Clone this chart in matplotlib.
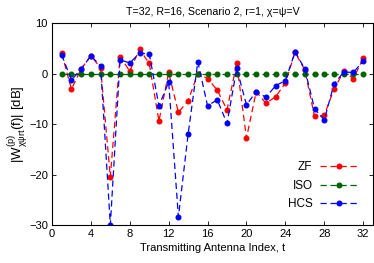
import numpy as np
import matplotlib
matplotlib.use('Agg')
import matplotlib.pyplot as plt

plt.rcParams['font.family'] = ['Liberation Sans', 'DejaVu Sans']
plt.rcParams['font.size'] = 8
plt.rcParams['mathtext.fontset'] = 'custom'
plt.rcParams['mathtext.rm'] = 'Liberation Sans'
plt.rcParams['mathtext.it'] = 'Liberation Sans'
plt.rcParams['mathtext.default'] = 'regular'

# antenna index
t = np.arange(1, 33)

zf = [4.0, -3.1, 0.9, 3.5, 1.1, -20.5, 3.3, 0.5, 4.8, 2.0,
      -9.4, 0.2, -7.7, -5.4, 0.0, -1.0, -3.3, -7.2, 2.0, -12.8,
      -3.6, -5.9, -4.6, -1.9, 4.2, 0.7, -8.5, -8.3, -3.1, 0.4,
      -1.0, 3.0]
iso = [0.0] * 32
hcs = [3.7, -1.3, 0.9, 3.5, 1.5, -30.0, 2.7, 2.1, 4.0, 3.9,
       -6.4, -1.7, -28.4, -12.0, 2.3, -6.4, -5.2, -9.9, 1.0, -6.2,
       -3.6, -4.7, -2.4, -1.4, 4.3, 0.9, -7.0, -9.2, -2.1, 0.3,
       0.2, 2.5]

fig = plt.figure(figsize=(3.74, 2.63), dpi=100)
ax = fig.add_axes([0.139, 0.1445, 0.858, 0.768])

style = dict(marker='o', markersize=3.3, linewidth=0.9, dashes=(5, 3))
ax.plot(t, zf, color='#ff0000', label='ZF', **style)
ax.plot(t, iso, color='#006400', label='ISO', **style)
ax.plot(t, hcs, color='#0000ff', label='HCS', **style)

ax.set_xlim(0, 33)
ax.set_ylim(-30, 10)
ax.set_xticks(range(0, 33, 4))
ax.set_yticks(range(-30, 11, 10))
ax.tick_params(direction='in', top=True, right=True, length=3, width=0.6, labelsize=8, pad=3)
for s in ax.spines.values():
    s.set_linewidth(0.8)

ax.set_title('T=32, R=16, Scenario 2, r=1, \u03c7=\u03c8=V', fontsize=7.7, pad=6)
ax.set_xlabel('Transmitting Antenna Index, t', fontsize=8, labelpad=3)
ax.set_ylabel(r'$|W^{(p)}_{\chi\psi rt}(f)|$ [dB]', fontsize=9.5, labelpad=-1)

ax.legend(loc='lower right', bbox_to_anchor=(0.985, 0.02), frameon=False, markerfirst=False,
          handlelength=3.2, labelspacing=0.55, fontsize=8.5, handletextpad=0.6)

fig.savefig('out.png', dpi=100)
